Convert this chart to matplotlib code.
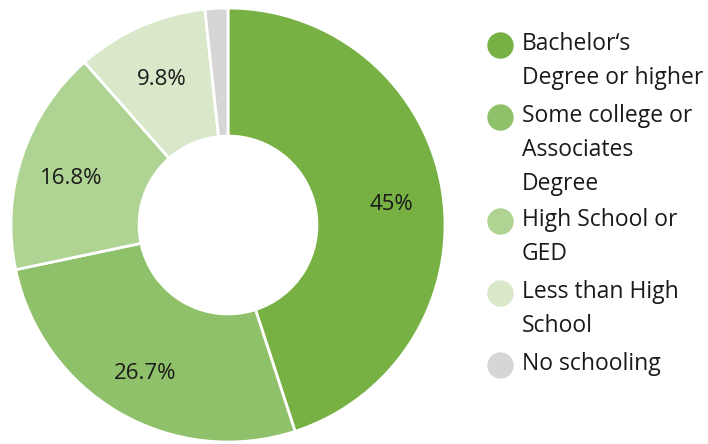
import matplotlib.pyplot as plt
from matplotlib.lines import Line2D
from matplotlib.transforms import offset_copy

plt.rcParams['font.family'] = ['Open Sans', 'DejaVu Sans']

categories = ["Bachelor\u2018s\nDegree or higher", "Some college or\nAssociates\nDegree",
              "High School or\nGED", "Less than High\nSchool", "No schooling"]
values = [45, 26.7, 16.8, 9.8, 1.7]
slice_labels = ["45%", "26.7%", "16.8%", "9.8%", ""]
colors = ["#77b144", "#8fc06a", "#aed392", "#d8e8c9", "#d6d6d6"]

fig = plt.figure(figsize=(7.08, 4.44), dpi=100)
ax = fig.add_axes([11 / 708, 2 / 444, 434 / 708, 434 / 444])
wedges, texts = ax.pie(values, colors=colors, labels=slice_labels, labeldistance=0.76,
                       startangle=90, counterclock=False, radius=1,
                       wedgeprops=dict(width=0.59, edgecolor="white", linewidth=2),
                       textprops=dict(fontsize=16, color="#1a1a1a"))
for t in texts:
    t.set_ha("center")
    t.set_va("center_baseline")
    # nudge down a bit so the digits sit centred like the original
    t.set_transform(offset_copy(t.get_transform(), fig=fig, y=-3, units="dots"))
ax.set_xlim(-1, 1)
ax.set_ylim(-1, 1)
ax.set_aspect("equal")
ax.axis("off")

# legend drawn by hand so the dot sits next to the first line
y = 1 - 45 / 444
for lab, col in zip(categories, colors):
    fig.add_artist(Line2D([500 / 708], [y], marker="o", markersize=18,
                          color=col, transform=fig.transFigure))
    fig.text(522 / 708, y + 13 / 444, lab, fontsize=16.5, color="#1a1a1a",
             va="top", ha="left", linespacing=1.55)
    nlines = lab.count("\n") + 1
    y -= (nlines * 32 + 8) / 444

fig.savefig("out.png", dpi=100)
